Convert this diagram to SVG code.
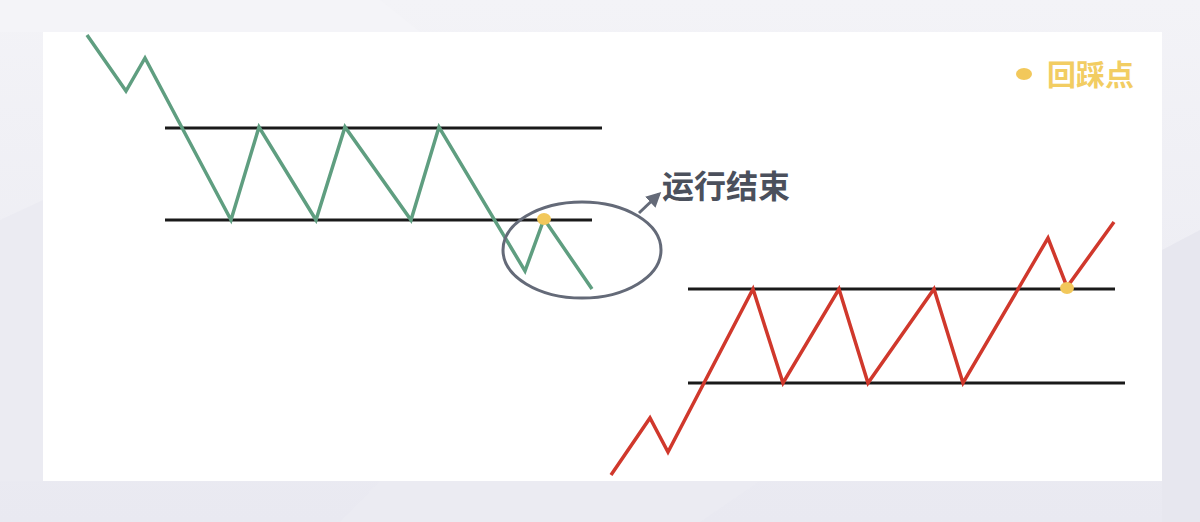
<svg xmlns="http://www.w3.org/2000/svg" width="1200" height="522" viewBox="0 0 1200 522">
  <defs>
    <style>
      .level { stroke: #1a1a1a; stroke-width: 3; fill: none; }
      .green { stroke: #5f9e80; stroke-width: 3.5; fill: none; stroke-linejoin: miter; }
      .red { stroke: #d0382c; stroke-width: 3.5; fill: none; stroke-linejoin: miter; }
      .dot { fill: #f2c85b; }
      .label { font-family: "Noto Sans CJK SC", "Liberation Sans", sans-serif; font-weight: 700; }
    </style>
    <linearGradient id="bg" x1="0" y1="0" x2="0" y2="1">
      <stop offset="0" stop-color="#f3f3f7"/>
      <stop offset="1" stop-color="#e9e9f1"/>
    </linearGradient>
    <marker id="arrow" viewBox="0 0 10 10" refX="8" refY="5" markerWidth="5" markerHeight="5" orient="auto">
      <path d="M0,0 L10,5 L0,10 z" fill="#646a78"/>
    </marker>
  </defs>

  <g id="background">
    <rect x="0" y="0" width="1200" height="522" fill="url(#bg)"/>
    <polygon points="0,0 380,0 420,32 0,32" fill="#f4f4f8"/>
    <polygon points="0,220 43,200 43,481 0,481" fill="#ebebf2"/>
    <polygon points="380,481 760,481 700,522 340,522" fill="#ebebf2"/>
    <polygon points="1162,250 1200,230 1200,522 1162,522" fill="#e7e7ef"/>
  </g>

  <rect id="panel" x="43" y="32" width="1119" height="449" fill="#ffffff"/>

  <g id="downtrend">
    <line class="level" x1="165" y1="128" x2="602" y2="128"/>
    <line class="level" x1="165" y1="220" x2="592" y2="220"/>
    <polyline class="green" points="87,35 126,91 145,58 231,220 259,127 316,220 345,127 411,220 439,127 525,271 544,219 592,289"/>
    <ellipse class="dot" cx="544" cy="219" rx="7" ry="6"/>
  </g>

  <g id="end-marker">
    <ellipse cx="582" cy="250" rx="79" ry="48" fill="none" stroke="#646a78" stroke-width="3"/>
  </g>

  <g id="connectors">
    <line x1="639" y1="213" x2="659" y2="194" stroke="#646a78" stroke-width="3" marker-end="url(#arrow)"/>
  </g>

  <g id="end-label">
    <text class="label" x="662" y="198" font-size="32" fill="#4b505c">运行结束</text>
  </g>

  <g id="uptrend">
    <line class="level" x1="688" y1="289" x2="1115" y2="289"/>
    <line class="level" x1="688" y1="383" x2="1125" y2="383"/>
    <polyline class="red" points="611,475 650,418 668,452 753,289 783,383 839,289 868,383 934,289 963,383 1048,238 1067,287 1114,222"/>
    <ellipse class="dot" cx="1067" cy="288" rx="7" ry="6"/>
  </g>

  <g id="legend">
    <ellipse class="dot" cx="1024" cy="74" rx="8" ry="6"/>
    <text class="label" x="1047" y="86" font-size="29" fill="#f2cd62">回踩点</text>
  </g>
</svg>
